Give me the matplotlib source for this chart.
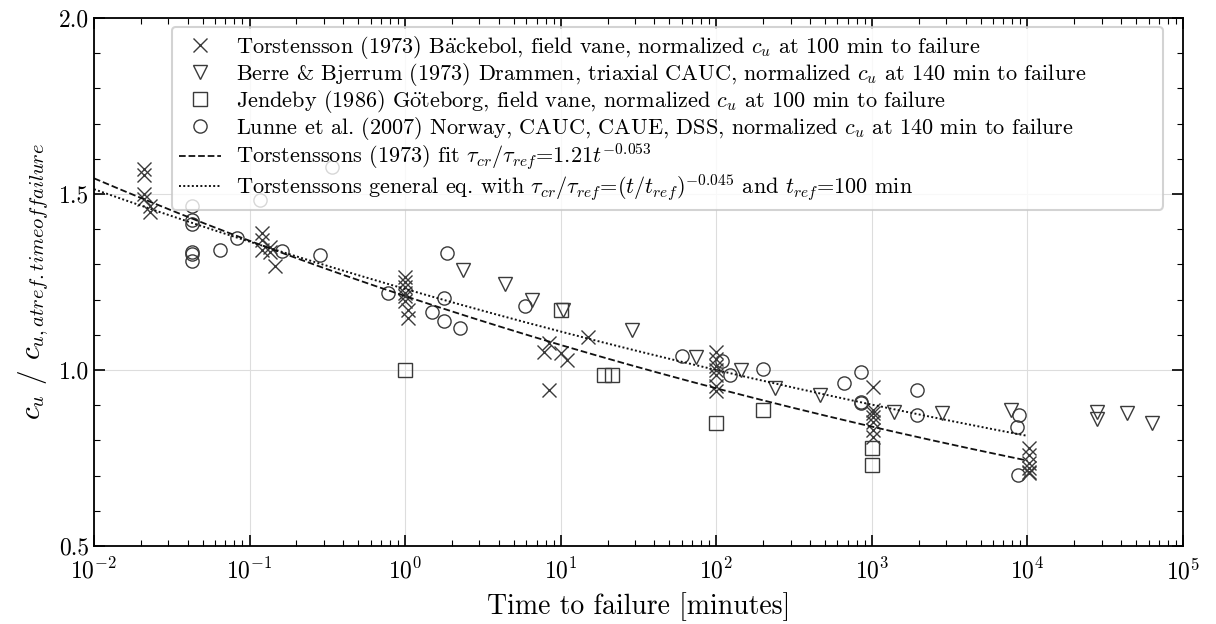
import matplotlib
matplotlib.use("Agg")
import matplotlib.pyplot as plt
import numpy as np
from matplotlib.ticker import LogLocator, MultipleLocator, FormatStrFormatter

plt.rcParams['font.family'] = ['cmr10', 'DejaVu Serif']
plt.rcParams['mathtext.fontset'] = 'cm'
plt.rcParams['axes.formatter.use_mathtext'] = True
plt.rcParams['axes.unicode_minus'] = False

# Torstensson (1973) Baeckebol, field vane
tor_t = [0.021, 0.021, 0.021, 0.021, 0.023, 0.023,
         0.12, 0.12, 0.12, 0.135, 0.135, 0.145,
         1.0, 1.0, 1.0, 1.0, 1.0, 1.0, 1.05, 1.05,
         7.8, 8.35, 8.35, 10.0, 11.0, 15.0,
         100, 100, 100, 100, 100, 100, 100,
         1010, 1010, 1010, 1010, 1010, 1010, 1010,
         10200, 10200, 10200, 10200, 10200, 10200]
tor_c = [1.57, 1.555, 1.50, 1.485, 1.465, 1.45,
         1.39, 1.37, 1.34, 1.35, 1.335, 1.295,
         1.265, 1.25, 1.235, 1.22, 1.21, 1.195, 1.17, 1.147,
         1.052, 1.076, 0.943, 1.047, 1.028, 1.095,
         1.05, 1.03, 1.01, 1.0, 0.985, 0.955, 0.94,
         0.951, 0.886, 0.877, 0.867, 0.853, 0.83, 0.81,
         0.778, 0.759, 0.735, 0.721, 0.711, 0.706]

# Berre & Bjerrum (1973) Drammen, triaxial CAUC
bb_t = [2.35, 4.4, 6.5, 10.4, 28.7, 74, 144, 239, 467, 1380, 2820, 7780,
        27800, 27800, 43400, 63400]
bb_c = [1.284, 1.243, 1.199, 1.170, 1.114, 1.038, 1.0, 0.948, 0.929, 0.882,
        0.877, 0.886, 0.882, 0.86, 0.877, 0.85]

# Jendeby (1986) Goteborg, field vane
jen_t = [1.0, 10.0, 19.0, 21.5, 100, 200, 1000, 1000]
jen_c = [1.0, 1.17, 0.986, 0.986, 0.849, 0.886, 0.778, 0.730]

# Lunne et al. (2007) Norway, CAUC, CAUE, DSS
lun_t = [0.0425, 0.0425, 0.0425, 0.0425, 0.0425, 0.0425,
         0.0646, 0.083, 0.117, 0.161, 0.284, 0.338,
         0.78, 1.48, 1.77, 1.77, 1.85, 2.26, 5.9,
         60, 109, 123, 201, 660, 850, 850, 850,
         1950, 1950, 8790, 8570, 8700]
lun_c = [1.465, 1.425, 1.415, 1.335, 1.33, 1.31,
         1.341, 1.376, 1.484, 1.339, 1.328, 1.576,
         1.218, 1.165, 1.205, 1.14, 1.331, 1.118, 1.181,
         1.04, 1.026, 0.985, 1.004, 0.962, 0.995, 0.91, 0.905,
         0.943, 0.872, 0.872, 0.839, 0.702]

# fitted relations
t_line = np.logspace(-2, 4, 300)
fit_a, fit_b = 1.21, -0.053
gen_b, t_ref = -0.045, 100.0

fig = plt.figure(figsize=(12.16, 6.24), dpi=100)
ax = fig.add_axes([0.0773, 0.125, 0.8956, 0.8462])

mk = dict(linestyle='none', markersize=9.5, markeredgewidth=1.0)
ax.plot(tor_t, tor_c, 'x', color='#3a3a3a',
        label=r'Torstensson (1973) B$\ddot{\mathrm{a}}$ckebol, field vane, normalized $c_u$ at 100 min to failure', **mk)
ax.plot(bb_t, bb_c, 'v', markerfacecolor='none', markeredgecolor='#3a3a3a',
        label=r'Berre & Bjerrum (1973) Drammen, triaxial CAUC, normalized $c_u$ at 140 min to failure', **mk)
ax.plot(jen_t, jen_c, 's', markerfacecolor='none', markeredgecolor='#3a3a3a',
        label=r'Jendeby (1986) G$\ddot{\mathrm{o}}$teborg, field vane, normalized $c_u$ at 100 min to failure', **mk)
ax.plot(lun_t, lun_c, 'o', markerfacecolor='none', markeredgecolor='#3a3a3a',
        label=r'Lunne et al. (2007) Norway, CAUC, CAUE, DSS, normalized $c_u$ at 140 min to failure', **mk)
ax.plot(t_line, fit_a * t_line ** fit_b, '--', color='#111111', lw=1.3,
        label=r'Torstenssons (1973) fit $\tau_{cr}/\tau_{ref}$=1.21$t^{-0.053}$')
ax.plot(t_line, (t_line / t_ref) ** gen_b, color='#111111', lw=1.4,
        dashes=(1.0, 1.2),
        label=r'Torstenssons general eq. with $\tau_{cr}/\tau_{ref}$=$(t/t_{ref})^{-0.045}$ and $t_{ref}$=100 min')

ax.set_xscale('log')
ax.set_xlim(1e-2, 1e5)
ax.set_ylim(0.5, 2.0)
ax.xaxis.set_major_locator(LogLocator(base=10, numticks=10))
ax.xaxis.set_minor_locator(LogLocator(base=10, subs=np.arange(2, 10), numticks=100))
ax.yaxis.set_major_locator(MultipleLocator(0.5))
ax.yaxis.set_minor_locator(MultipleLocator(0.1))
ax.yaxis.set_major_formatter(FormatStrFormatter('%.1f'))

ax.tick_params(which='both', direction='in', top=True, right=True, labelsize=17)
ax.tick_params(axis='x', which='major', pad=9)
ax.tick_params(which='major', length=8, width=1.2)
ax.tick_params(which='minor', length=4, width=0.8)
for s in ax.spines.values():
    s.set_linewidth(1.3)
ax.grid(True, which='major', color='#dddddd', lw=0.8)
ax.set_axisbelow(True)

ax.set_xlabel('Time to failure [minutes]', fontsize=20, labelpad=6)
ax.set_ylabel(r'$c_u$ / $c_{u,at ref. time of failure}$', fontsize=21, labelpad=6)

leg = ax.legend(loc='upper left', bbox_to_anchor=(0.0716, 0.983, 0.91, 0.0), mode='expand',
                borderaxespad=0, fontsize=16, framealpha=0.8, edgecolor='#c8c8c8',
                fancybox=True, handlelength=1.9, labelspacing=0.0, borderpad=0.3,
                handletextpad=0.7)
leg.get_frame().set_linewidth(1.5)

fig.savefig('out.png', dpi=100)
